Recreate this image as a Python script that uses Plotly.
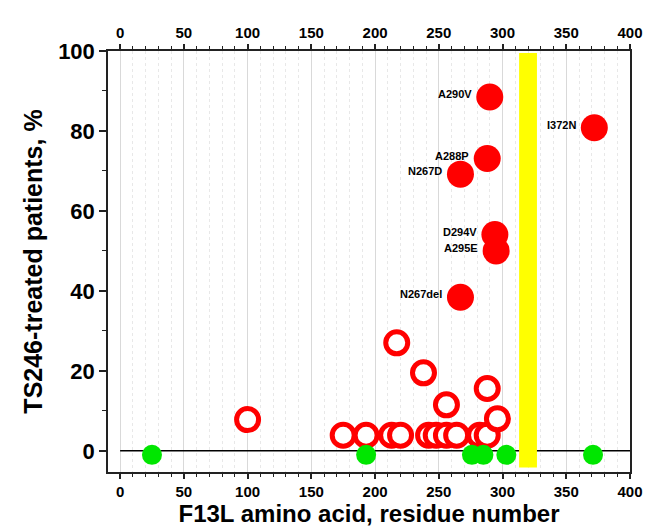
import plotly.graph_objects as go

# Filled (labelled) mutations
mut_labels = ["A290V", "I372N", "A288P", "N267D", "D294V", "A295E", "N267del"]
mut_residue = [290, 372, 288, 267, 294, 295, 267]
mut_pct = [88.5, 80.8, 73.1, 69.2, 54.1, 50.0, 38.4]

# Open circles (unlabelled mutations)
open_residue = [100, 175, 193, 213, 220, 242, 248, 256, 264, 282, 288,
                217, 238, 256, 288, 296]
open_pct = [7.8, 3.9, 3.9, 3.9, 3.9, 3.9, 3.9, 3.9, 3.9, 3.9, 3.9,
            27.0, 19.5, 11.5, 15.6, 8.0]

# Green markers just below zero
green_residue = [25, 193, 276, 285, 303, 371]
green_pct = [-1, -1, -1, -1, -1, -1]

# Highlighted region
band_start, band_end = 313, 327

x_range = [-9.5, 400]
y_range = [-5.3, 100]
x_ticks = [0, 50, 100, 150, 200, 250, 300, 350, 400]
y_ticks = [0, 20, 40, 60, 80, 100]

FONT = "Liberation Sans"

fig = go.Figure()

fig.add_trace(go.Scatter(
    x=green_residue, y=green_pct, mode="markers", xaxis="x2",
    marker=dict(size=20, color="#00e600", line=dict(width=0)),
    hoverinfo="skip", showlegend=False))

fig.add_trace(go.Scatter(
    x=open_residue, y=open_pct, mode="markers",
    marker=dict(size=22, color="white", line=dict(width=5, color="#ff0000")),
    showlegend=False))

fig.add_trace(go.Scatter(
    x=mut_residue, y=mut_pct, mode="markers",
    marker=dict(size=27, color="#ff0000", line=dict(width=0)),
    showlegend=False))

for lab, xv, yv in zip(mut_labels, mut_residue, mut_pct):
    fig.add_annotation(x=xv, y=yv, text=lab, showarrow=False,
                       xanchor="right", yanchor="middle", xshift=-16, yshift=3,
                       font=dict(family=FONT, size=11, color="black", weight="bold"))

fig.add_shape(type="line", x0=0, x1=x_range[1], y0=0, y1=0,
              line=dict(color="black", width=1.5), layer="between")
fig.add_shape(type="rect", x0=band_start, x1=band_end, y0=-4.2, y1=99.5,
              fillcolor="#ffff00", line=dict(width=0), layer="between")

grid_major = "#d9d9d9"
grid_minor = "#e8e8e8"

common_x = dict(range=x_range, tickvals=x_ticks, ticks="outside", ticklen=5,
                tickwidth=1.5, tickcolor="#222", showline=True, linecolor="#222",
                linewidth=1.5, automargin=False,
                tickfont=dict(family=FONT, size=15, color="black", weight="bold"))

fig.update_layout(
    width=645, height=527,
    margin=dict(l=108, r=15, t=51, b=55),
    plot_bgcolor="white", paper_bgcolor="white",
    xaxis=dict(**common_x, side="bottom", showgrid=True, gridcolor=grid_major,
               gridwidth=1, zeroline=False,
               minor=dict(dtick=10, ticks="outside", ticklen=3, tickwidth=1.2,
                          tickcolor="#222", showgrid=True, gridcolor=grid_minor,
                          griddash="dot", gridwidth=1),
               title=dict(text="<b>F13L amino acid, residue number</b>",
                          font=dict(family=FONT, size=24, color="black"),
                          standoff=3)),
    xaxis2=dict(**common_x, side="top", overlaying="x", showgrid=False,
                zeroline=False,
                minor=dict(dtick=10, ticks="outside", ticklen=3, tickwidth=1.2,
                           tickcolor="#222", showgrid=False)),
    yaxis=dict(range=y_range, tickvals=y_ticks, ticks="outside", ticklen=7,
               tickwidth=1.5, tickcolor="#222", showline=True, linecolor="#222",
               linewidth=1.5, mirror=True, showgrid=False, zeroline=False,
               automargin=False,
               minor=dict(dtick=10, ticks="outside", ticklen=4, tickwidth=1.2,
                          tickcolor="#222"),
               tickfont=dict(family=FONT, size=22, color="black", weight="bold"),
               title=dict(text="<b>TS246-treated patients, %</b>",
                          font=dict(family=FONT, size=25, color="black"),
                          standoff=8)),
)

fig.write_html("out.html", config={"displayModeBar": False},
               post_script="document.body.style.margin='0';document.body.style.padding='0';")
